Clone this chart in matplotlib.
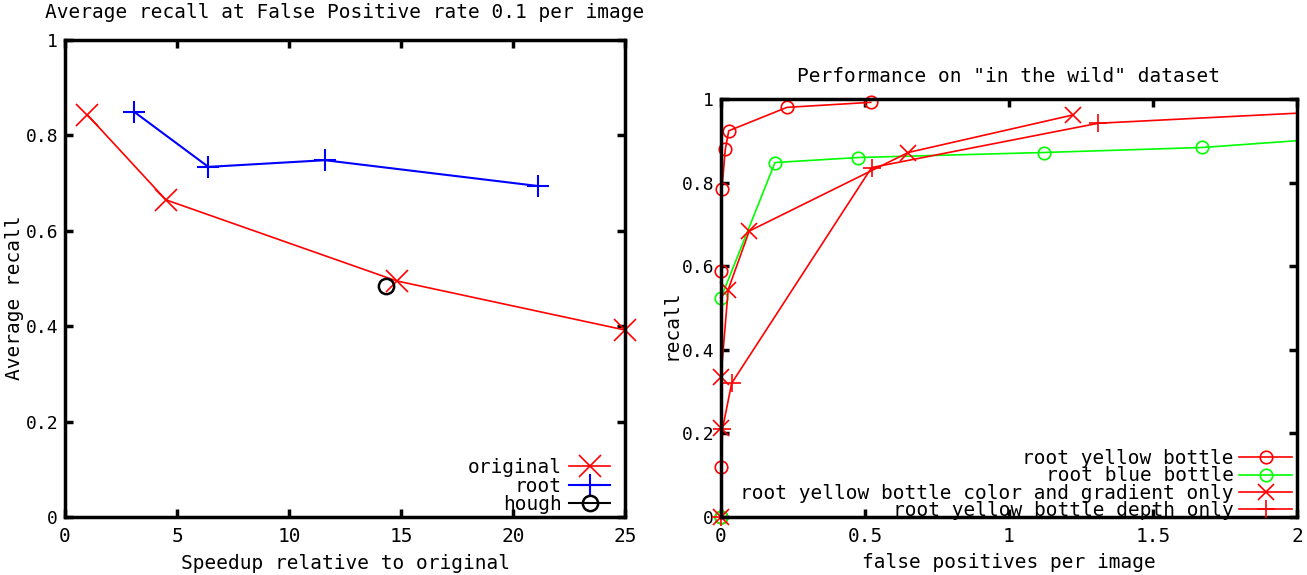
import matplotlib
matplotlib.use("Agg")
import matplotlib.pyplot as plt

plt.rcParams.update({
    "font.family": "DejaVu Sans Mono",
    "font.size": 14,
    "axes.linewidth": 2.5,
})

# left panel: average recall vs speedup
orig_x = [1.0, 4.5, 14.8, 25.0]
orig_y = [0.843, 0.665, 0.495, 0.392]
root_x = [3.1, 6.4, 11.6, 21.1]
root_y = [0.849, 0.734, 0.748, 0.694]
hough_x = [14.35]
hough_y = [0.484]

# right panel: recall vs false positives per image
yellow_fp = [0.0, 0.0, 0.0, 0.003, 0.015, 0.027, 0.229, 0.52]
yellow_rc = [0.0, 0.12, 0.588, 0.784, 0.88, 0.924, 0.98, 0.992]
blue_fp = [0.0, 0.0, 0.1875, 0.477, 1.12, 1.671, 2.4]
blue_rc = [0.0, 0.524, 0.848, 0.86, 0.872, 0.884, 0.92]
colgrad_fp = [0.0, 0.0, 0.0, 0.025, 0.098, 0.65, 1.223]
colgrad_rc = [0.0, 0.213, 0.336, 0.544, 0.684, 0.872, 0.962]
depth_fp = [0.0, 0.005, 0.037, 0.523, 1.31, 2.4]
depth_rc = [0.0, 0.21, 0.32, 0.836, 0.942, 0.98]

W, H = 1307, 575
fs = 14
fig = plt.figure(figsize=(W / 100, H / 100), dpi=100)

ax1 = fig.add_axes([65 / W, 1 - 517 / H, 560 / W, 477 / H])
ax2 = fig.add_axes([721 / W, 1 - 517 / H, 576 / W, 418 / H])


def gp_style(ax):
    ax.tick_params(direction="in", length=6, width=2.5, top=True, right=True,
                   labelsize=fs, pad=7)
    ax.tick_params(axis="y", pad=5, labelsize=13)


# left
ax1.plot(orig_x, orig_y, color="#ff0000", lw=1.2, marker="x", ms=16, mew=1.2,
         clip_on=False, label="original")
ax1.plot(root_x, root_y, color="#0000ff", lw=1.5, marker="+", ms=16, mew=1.5,
         clip_on=False, label="root")
ax1.plot(hough_x, hough_y, color="black", linestyle="none", marker="o", ms=11,
         mfc="none", mew=1.8, label="hough")
ax1.set_xlim(0, 25)
ax1.set_ylim(0, 1)
ax1.set_xticks([0, 5, 10, 15, 20, 25])
ax1.set_yticks([0, 0.2, 0.4, 0.6, 0.8, 1.0])
ax1.set_yticklabels(["0", "0.2", "0.4", "0.6", "0.8", "1"])
gp_style(ax1)
ax1.set_title("Average recall at False Positive rate 0.1 per image", fontsize=fs, pad=16)
ax1.set_xlabel("Speedup relative to original", fontsize=fs, labelpad=6)
ax1.set_ylabel("Average recall", fontsize=fs)
ax1.yaxis.set_label_coords(-0.073, 0.46)
h, l = ax1.get_legend_handles_labels()
h[2] = plt.Line2D([], [], color="black", lw=1.5, marker="o", ms=11, mfc="none", mew=1.8)
ax1.legend(h, l, loc="lower right", bbox_to_anchor=(0.975, 0.004), frameon=False,
           markerfirst=False, numpoints=1, handlelength=2.1, labelspacing=-0.03,
           handletextpad=0.4, borderaxespad=0.0, borderpad=0.05, fontsize=fs)

# right: lines clipped at the frame, markers drawn whole inside the range
series = [
    (yellow_fp, yellow_rc, "#ff0000", "o", 9, "root yellow bottle"),
    (blue_fp, blue_rc, "#00ff00", "o", 9, "root blue bottle"),
    (colgrad_fp, colgrad_rc, "#ff0000", "x", 12, "root yellow bottle color and gradient only"),
    (depth_fp, depth_rc, "#ff0000", "+", 13, "root yellow bottle depth only"),
]
handles = []
for fp, rc, col, mk, ms, lab in series:
    ax2.plot(fp, rc, color=col, lw=1.2)
    xs = [x for x in fp if x <= 2]
    ys = [y for x, y in zip(fp, rc) if x <= 2]
    ax2.plot(xs, ys, color=col, linestyle="none", marker=mk, ms=ms, mfc="none",
             mew=1.2, clip_on=False)
    handles.append(plt.Line2D([], [], color=col, lw=1.2, marker=mk, ms=ms, mfc="none", mew=1.2))

ax2.set_xlim(0, 2)
ax2.set_ylim(0, 1)
ax2.set_xticks([0, 0.5, 1, 1.5, 2])
ax2.set_xticklabels(["0", "0.5", "1", "1.5", "2"])
ax2.set_yticks([0, 0.2, 0.4, 0.6, 0.8, 1.0])
ax2.set_yticklabels(["0", "0.2", "0.4", "0.6", "0.8", "1"])
gp_style(ax2)
ax2.set_title('Performance on "in the wild" dataset', fontsize=fs, pad=12)
ax2.set_xlabel("false positives per image", fontsize=fs, labelpad=5)
ax2.set_ylabel("recall", fontsize=fs)
ax2.yaxis.set_label_coords(-0.071, 0.46)
ax2.legend(handles, [s[5] for s in series], loc="lower right",
           bbox_to_anchor=(0.993, -0.01), frameon=False, markerfirst=False,
           numpoints=1, handlelength=2.7, labelspacing=-0.08, handletextpad=0.3,
           borderaxespad=0.0, borderpad=0.05, fontsize=fs)

fig.savefig("out.png", dpi=100)
